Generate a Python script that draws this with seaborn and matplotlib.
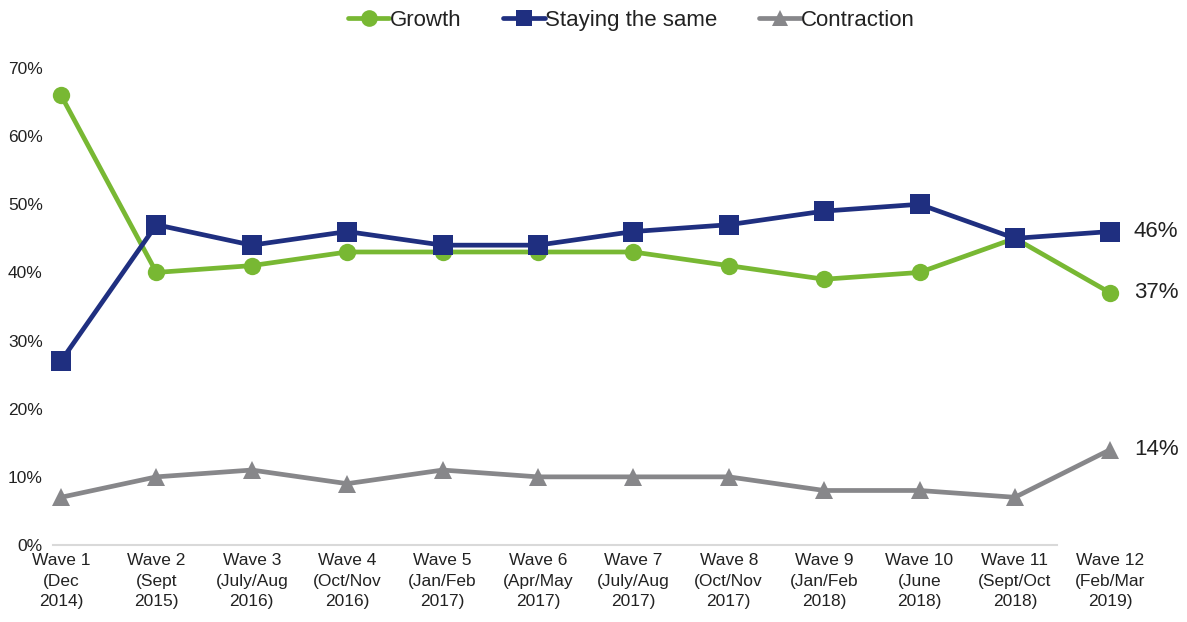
import matplotlib
matplotlib.use("Agg")
import matplotlib.pyplot as plt
from matplotlib.lines import Line2D
import seaborn as sns
import pandas as pd

waves = ["Wave 1\n(Dec\n2014)", "Wave 2\n(Sept\n2015)", "Wave 3\n(July/Aug\n2016)",
         "Wave 4\n(Oct/Nov\n2016)", "Wave 5\n(Jan/Feb\n2017)", "Wave 6\n(Apr/May\n2017)",
         "Wave 7\n(July/Aug\n2017)", "Wave 8\n(Oct/Nov\n2017)", "Wave 9\n(Jan/Feb\n2018)",
         "Wave 10\n(June\n2018)", "Wave 11\n(Sept/Oct\n2018)", "Wave 12\n(Feb/Mar\n2019)"]
growth = [66, 40, 41, 43, 43, 43, 43, 41, 39, 40, 45, 37]
staying = [27, 47, 44, 46, 44, 44, 46, 47, 49, 50, 45, 46]
contraction = [7, 10, 11, 9, 11, 10, 10, 10, 8, 8, 7, 14]

series_names = ["Growth", "Staying the same", "Contraction"]
colors = {"Growth": "#78B833", "Staying the same": "#1F2F80", "Contraction": "#87878A"}
markers = {"Growth": "o", "Staying the same": "s", "Contraction": "^"}
msizes = {"Growth": 12.5, "Staying the same": 14, "Contraction": 13.5}

rows = []
for name, vals in zip(series_names, [growth, staying, contraction]):
    for i, v in enumerate(vals):
        rows.append({"wave": i, "value": v / 100, "series": name})
df = pd.DataFrame(rows)

sns.set_theme(style="white")
plt.rcParams["font.family"] = ["Liberation Sans", "DejaVu Sans"]

fig = plt.figure(figsize=(11.87, 6.22), dpi=100)
ax = fig.add_axes([47 / 1187, (622 - 545) / 622, (1158 - 47) / 1187, (545 - 68) / 622])

# draw contraction first so the upper series sit on top
for name in ["Contraction", "Growth", "Staying the same"]:
    sub = df[df["series"] == name]
    sns.lineplot(data=sub, x="wave", y="value", color=colors[name], marker=markers[name],
                 markersize=msizes[name], markeredgewidth=0, linewidth=3.4,
                 ax=ax, legend=False, zorder=3)

xmin = (47 - 61) / 95.4
ax.set_xlim(xmin, 11.5)
ax.set_ylim(0, 0.70)
ax.set_xticks(range(len(waves)))
ax.set_xticklabels(waves, fontsize=12.5, color="#222222", linespacing=1.45)
ax.set_yticks([i / 10 for i in range(8)])
ax.set_yticklabels([f"{i * 10}%" for i in range(8)], fontsize=12.5, color="#222222")
ax.tick_params(axis="both", length=0)
ax.tick_params(axis="x", pad=6)
ax.tick_params(axis="y", pad=3)
ax.set_xlabel("")
ax.set_ylabel("")

for s in ["top", "right", "left"]:
    ax.spines[s].set_visible(False)
ax.spines["bottom"].set_color("#D9D9D9")
ax.spines["bottom"].set_linewidth(1.5)
ax.spines["bottom"].set_bounds(-0.084, 10.44)

# end-of-line value labels
last = len(waves) - 1
for vals in [staying, growth, contraction]:
    ax.annotate(f"{vals[last]}%", xy=(last, vals[last] / 100), xytext=(17, 0),
                textcoords="offset points", va="center", ha="left",
                fontsize=16, color="#222222", annotation_clip=False)

handles = [Line2D([0], [0], color=colors[n], marker=markers[n], markersize=12,
                  markeredgewidth=0, linewidth=3.4) for n in series_names]
fig.legend(handles, series_names, loc="center", bbox_to_anchor=(0.532, 0.967), ncol=3,
           frameon=False, fontsize=16, handlelength=1.85, handletextpad=0.02,
           columnspacing=1.9, labelcolor="#222222")

fig.savefig("out.png", dpi=100)
